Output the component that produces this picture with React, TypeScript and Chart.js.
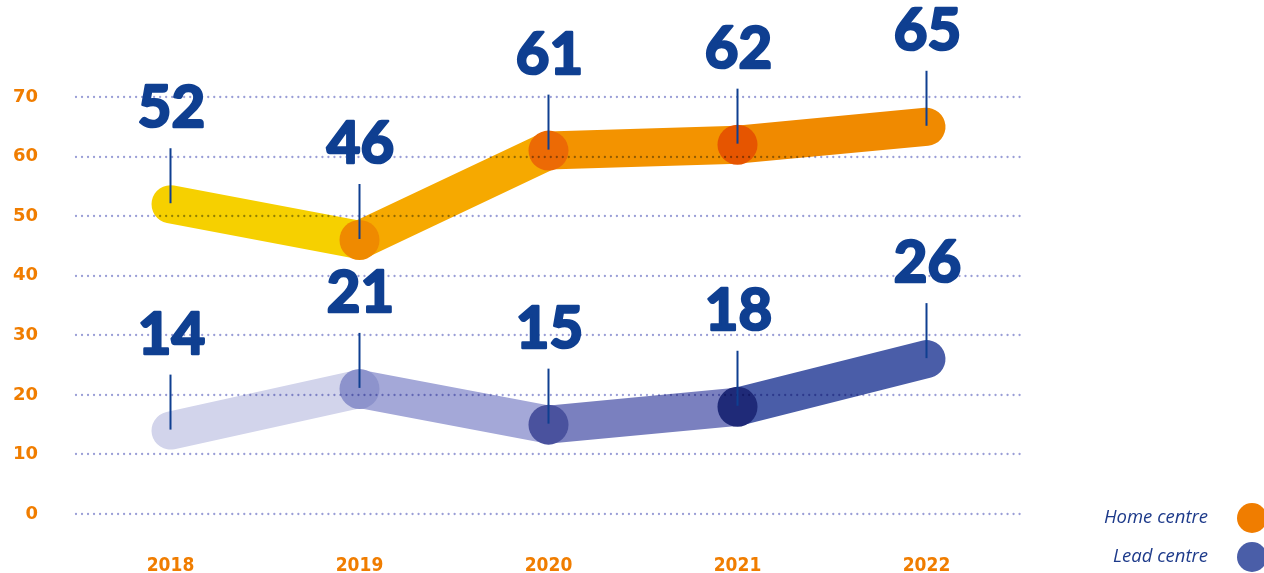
import { useEffect, useRef } from 'react';
import { Chart, registerables } from 'chart.js';

Chart.register(...registerables);

const years = ['2018', '2019', '2020', '2021', '2022'];
const homeCentre = [52, 46, 61, 62, 65];
const leadCentre = [14, 21, 15, 18, 26];
const yTicks = [0, 10, 20, 30, 40, 50, 60, 70];
const legendLabels = ['Home centre', 'Lead centre'];

const homeSegmentColors = ['#f6d000', '#f6a900', '#f39300', '#f08a00'];
const leadSegmentColors = ['#d2d4eb', '#a4a8d8', '#7a80bf', '#4a5da8'];
const homePointColors = ['rgba(0,0,0,0)', '#ef8a00', '#ec6a05', '#e65500', 'rgba(0,0,0,0)'];
const leadPointColors = ['rgba(0,0,0,0)', '#8d93cc', '#4a529e', '#1f2a78', 'rgba(0,0,0,0)'];
const legendColors = ['#f07d00', '#4a5ea8'];

const ORANGE = '#f07d00';
const NAVY = '#0f3f91';

const overlayPlugin = {
  id: 'overlay',
  afterDatasetsDraw(chart: any) {
    const { ctx, chartArea, scales } = chart;
    const xs = scales.x;
    const ys = scales.y;
    // dotted grid lines drawn over the data (multiply)
    ctx.save();
    ctx.globalCompositeOperation = 'multiply';
    ctx.strokeStyle = '#9a9ed6';
    ctx.lineWidth = 2.3;
    ctx.lineCap = 'round';
    ctx.setLineDash([0.01, 6]);
    for (const v of yTicks) {
      const py = Math.round(ys.getPixelForValue(v));
      ctx.beginPath();
      ctx.moveTo(chartArea.left, py);
      ctx.lineTo(chartArea.right + 4, py);
      ctx.stroke();
    }
    ctx.restore();

    // value labels with leader lines
    ctx.save();
    [homeCentre, leadCentre].forEach((arr) => {
      arr.forEach((v, i) => {
        const px = xs.getPixelForValue(i);
        const py = ys.getPixelForValue(v);
        ctx.strokeStyle = NAVY;
        ctx.lineWidth = 2;
        ctx.beginPath();
        ctx.moveTo(px, py - 1);
        ctx.lineTo(px, py - 56);
        ctx.stroke();
        ctx.fillStyle = NAVY;
        ctx.font = 'bold 58px Lato';
        ctx.textAlign = 'center';
        ctx.textBaseline = 'alphabetic';
        ctx.lineJoin = 'round';
        ctx.lineWidth = 2.6;
        ctx.fillText(String(v), px + 1, py - 77);
        ctx.strokeText(String(v), px + 1, py - 77);
      });
    });
    ctx.restore();

    // legend
    ctx.save();
    legendLabels.forEach((lbl, i) => {
      const cy = 518 + i * 39;
      ctx.fillStyle = '#1d3a8a';
      ctx.font = 'italic 18.5px "Open Sans"';
      ctx.textAlign = 'right';
      ctx.textBaseline = 'middle';
      ctx.fillText(lbl, 1208, cy);
      ctx.fillStyle = legendColors[i];
      ctx.beginPath();
      ctx.arc(1252, cy, 15, 0, Math.PI * 2);
      ctx.fill();
    });
    ctx.restore();
  },
};

export default function App() {
  const ref = useRef<HTMLCanvasElement | null>(null);

  useEffect(() => {
    if (!ref.current) return;
    const chart = new Chart(ref.current, {
      type: 'line',
      data: {
        labels: years,
        datasets: [
          {
            label: legendLabels[0],
            data: homeCentre,
            borderWidth: 38,
            borderCapStyle: 'round',
            borderJoinStyle: 'round',
            borderColor: homeSegmentColors[0],
            segment: {
              borderColor: (c: any) => homeSegmentColors[c.p0DataIndex],
            },
            pointRadius: [0, 20, 20, 20, 0],
            pointBorderWidth: 0,
            pointBackgroundColor: homePointColors,
            pointBorderColor: 'rgba(0,0,0,0)',
            clip: false,
          } as any,
          {
            label: legendLabels[1],
            data: leadCentre,
            borderWidth: 38,
            borderCapStyle: 'round',
            borderJoinStyle: 'round',
            borderColor: leadSegmentColors[0],
            segment: {
              borderColor: (c: any) => leadSegmentColors[c.p0DataIndex],
            },
            pointRadius: [0, 20, 20, 20, 0],
            pointBorderWidth: 0,
            pointBackgroundColor: leadPointColors,
            pointBorderColor: 'rgba(0,0,0,0)',
            clip: false,
          } as any,
        ],
      },
      options: {
        responsive: false,
        animation: false,
        layout: { padding: { left: 0, top: 97, right: 243, bottom: 0 } },
        plugins: { legend: { display: false }, tooltip: { enabled: false } },
        scales: {
          x: {
            offset: true,
            grid: { display: false, drawTicks: false },
            border: { display: false },
            ticks: {
              color: ORANGE,
              padding: 41,
              font: { family: "'DejaVu Sans Condensed', 'DejaVu Sans'", size: 19, weight: 'bold' },
            },
            afterFit: (s: any) => {
              s.height = 59;
            },
          },
          y: {
            min: 0,
            max: 70,
            grid: { display: false, drawTicks: false },
            border: { display: false },
            ticks: {
              stepSize: 10,
              color: ORANGE,
              padding: 38,
              font: { family: "'DejaVu Sans'", size: 18, weight: 'bold' },
            },
            afterFit: (s: any) => {
              s.width = 76;
            },
          },
        },
      } as any,
      plugins: [overlayPlugin],
    });
    return () => chart.destroy();
  }, []);

  return (
    <div style={{ position: 'absolute', left: 0, top: 0, width: 1264, height: 573, background: '#fff' }}>
      <canvas ref={ref} width={1264} height={573} style={{ display: 'block', width: 1264, height: 573 }} />
    </div>
  );
}
